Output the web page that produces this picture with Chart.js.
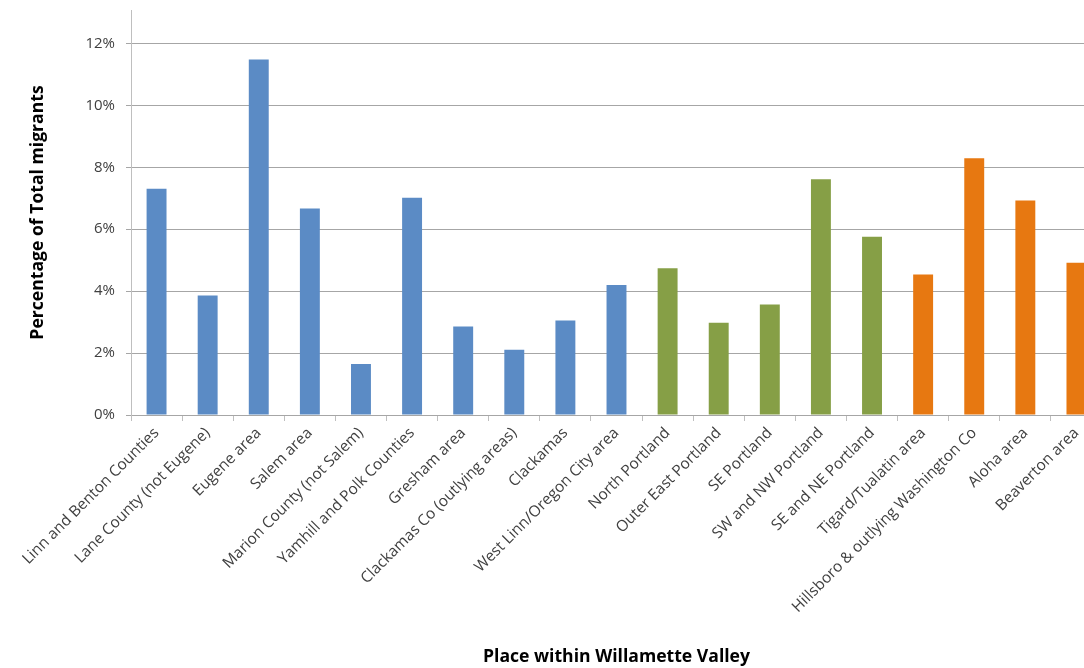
<!DOCTYPE html>
<html>
<head>
<meta charset="utf-8">
<script src="https://cdn.jsdelivr.net/npm/chart.js@4.4.1/dist/chart.umd.min.js"></script>
<style>
  html, body { margin: 0; padding: 0; background: #fff; overflow: hidden; }
  #wrap { width: 1102px; height: 668px; }
</style>
</head>
<body>
<div id="wrap"><canvas id="migrants-chart" width="1102" height="668"></canvas></div>
<script>
// Places (x categories) and the area each belongs to
let places = [
    'Linn and Benton Counties',
    'Lane County (not Eugene)',
    'Eugene area',
    'Salem area',
    'Marion County (not Salem)',
    'Yamhill and Polk Counties',
    'Gresham area',
    'Clackamas Co (outlying areas)',
    'Clackamas',
    'West Linn/Oregon City area',
    'North Portland',
    'Outer East Portland',
    'SE Portland',
    'SW and NW Portland',
    'SE and NE Portland',
    'Tigard/Tualatin area',
    'Hillsboro & outlying Washington Co',
    'Aloha area',
    'Beaverton area'
];
let areas = [
    'valley', 'valley', 'valley', 'valley', 'valley', 'valley', 'valley', 'valley', 'valley', 'valley',
    'portland', 'portland', 'portland', 'portland', 'portland',
    'washington', 'washington', 'washington', 'washington'
];
// Share of total migrants
let percentages = [
    0.0731, 0.0386, 0.1148, 0.0667, 0.0165, 0.0702, 0.0286, 0.0211, 0.0305, 0.0420,
    0.0474, 0.0298, 0.0357, 0.0761, 0.0576,
    0.0454, 0.0829, 0.0693, 0.0492
];
let yTicks = [0, 0.02, 0.04, 0.06, 0.08, 0.10, 0.12];

let areaColors = { valley: '#5b8bc5', portland: '#869f46', washington: '#e77811' };
let barColors = areas.map(a => areaColors[a]);

const data = {
    labels: places,
    datasets: [{
        label: 'Percentage of Total migrants',
        data: percentages,
        backgroundColor: barColors,
        borderWidth: 0,
        categoryPercentage: 1.0,
        barPercentage: 0.39
    }]
};

Chart.defaults.font.family = "'Open Sans', sans-serif";
Chart.defaults.color = '#404040';

var ctx = document.getElementById('migrants-chart').getContext('2d');
var migrantsChart = new Chart(ctx, {
    type: 'bar',
    data,
    options: {
        responsive: false,
        animation: false,
        layout: { padding: { left: 0, top: 10, right: 0, bottom: 0 } },
        plugins: {
            legend: { display: false },
            tooltip: { enabled: false }
        },
        scales: {
            x: {
                grid: {
                    offset: true,
                    drawOnChartArea: false,
                    drawTicks: true,
                    tickLength: 6,
                    color: '#bfbfbf'
                },
                border: { color: '#a6a6a6' },
                ticks: {
                    maxRotation: 45,
                    minRotation: 45,
                    autoSkip: false,
                    padding: 3,
                    font: { size: 15.4 },
                    color: '#404040'
                },
                title: {
                    display: true,
                    text: 'Place within Willamette Valley',
                    font: { size: 17.6, weight: 'bold' },
                    color: '#000',
                    padding: { top: 0, bottom: 0 }
                },
                afterFit: function (scale) {
                    scale.height = 253;
                    scale.paddingLeft = 0;
                    scale.paddingRight = 0;
                }
            },
            y: {
                min: 0,
                max: 0.1308,
                afterBuildTicks: function (scale) {
                    scale.ticks = yTicks.map(v => ({ value: v }));
                },
                grid: {
                    color: '#a6a6a6',
                    tickLength: 5,
                    drawTicks: true
                },
                border: { color: '#bfbfbf' },
                ticks: {
                    padding: 11,
                    font: { size: 15 },
                    color: '#404040',
                    callback: function (v) { return Math.round(v * 100) + '%'; }
                },
                title: {
                    display: true,
                    text: 'Percentage of Total migrants',
                    font: { size: 17.6, weight: 'bold' },
                    color: '#000',
                    padding: { top: 27, bottom: 0 }
                },
                afterFit: function (scale) {
                    scale.width = 131;
                    scale.paddingTop = 0;
                    scale.paddingBottom = 0;
                }
            }
        }
    }
});
</script>
</body>
</html>
